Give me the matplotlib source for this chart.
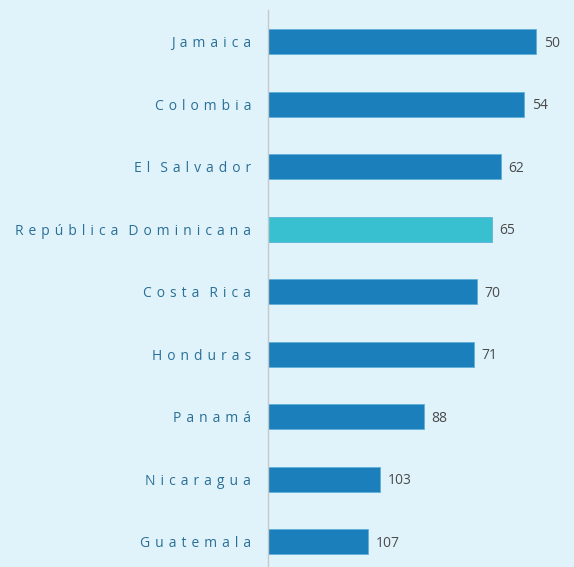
import numpy as np
import matplotlib.pyplot as plt

# Posiciones en el ranking (141 paises)
paises = ["Jamaica", "Colombia", "El Salvador", "República Dominicana",
          "Costa Rica", "Honduras", "Panamá", "Nicaragua", "Guatemala"]
ranking = [50, 54, 62, 65, 70, 71, 88, 103, 107]
total_paises = 141
destacado = "República Dominicana"

BG = "#e0f3fa"
AZUL = "#1a7fba"
TURQUESA = "#38c0d0"

plt.rcParams['font.family'] = ['Open Sans', 'DejaVu Sans']


def espaciar(texto):
    # imita el espaciado amplio entre letras
    sep = " \u200a"
    return (sep * 2).join(sep.join(p) for p in texto.split(" "))


fig = plt.figure(figsize=(5.74, 5.67), dpi=100, facecolor=BG)
ax = fig.add_axes([268 / 574, 0, 1 - 268 / 574, 1 - 10 / 567])
ax.set_facecolor(BG)

y = np.arange(len(paises))
largo = [total_paises - r for r in ranking]
colores = [TURQUESA if p == destacado else AZUL for p in paises]
ax.barh(y, largo, height=0.4, color=colores, edgecolor="#5fb0d8", linewidth=0.6)

for yi, l, r in zip(y, largo, ranking):
    ax.text(l + 2.6, yi + 0.02, str(r), va="center", ha="left", fontsize=10, color="#4a4a4a")

ax.set_yticks(y)
ax.set_yticklabels([espaciar(p) for p in paises], fontsize=10.0, color="#2a6f97")
ax.tick_params(axis="y", length=0, pad=12)
ax.set_xticks([])
ax.set_xlim(0, 103.9)
ax.set_ylim(len(paises) - 1 + 0.4, -0.51)

for s in ["top", "right", "bottom"]:
    ax.spines[s].set_visible(False)
ax.spines["left"].set_color("#c8c8c8")
ax.spines["left"].set_linewidth(1)

plt.savefig("out.png", dpi=100, facecolor=BG)
